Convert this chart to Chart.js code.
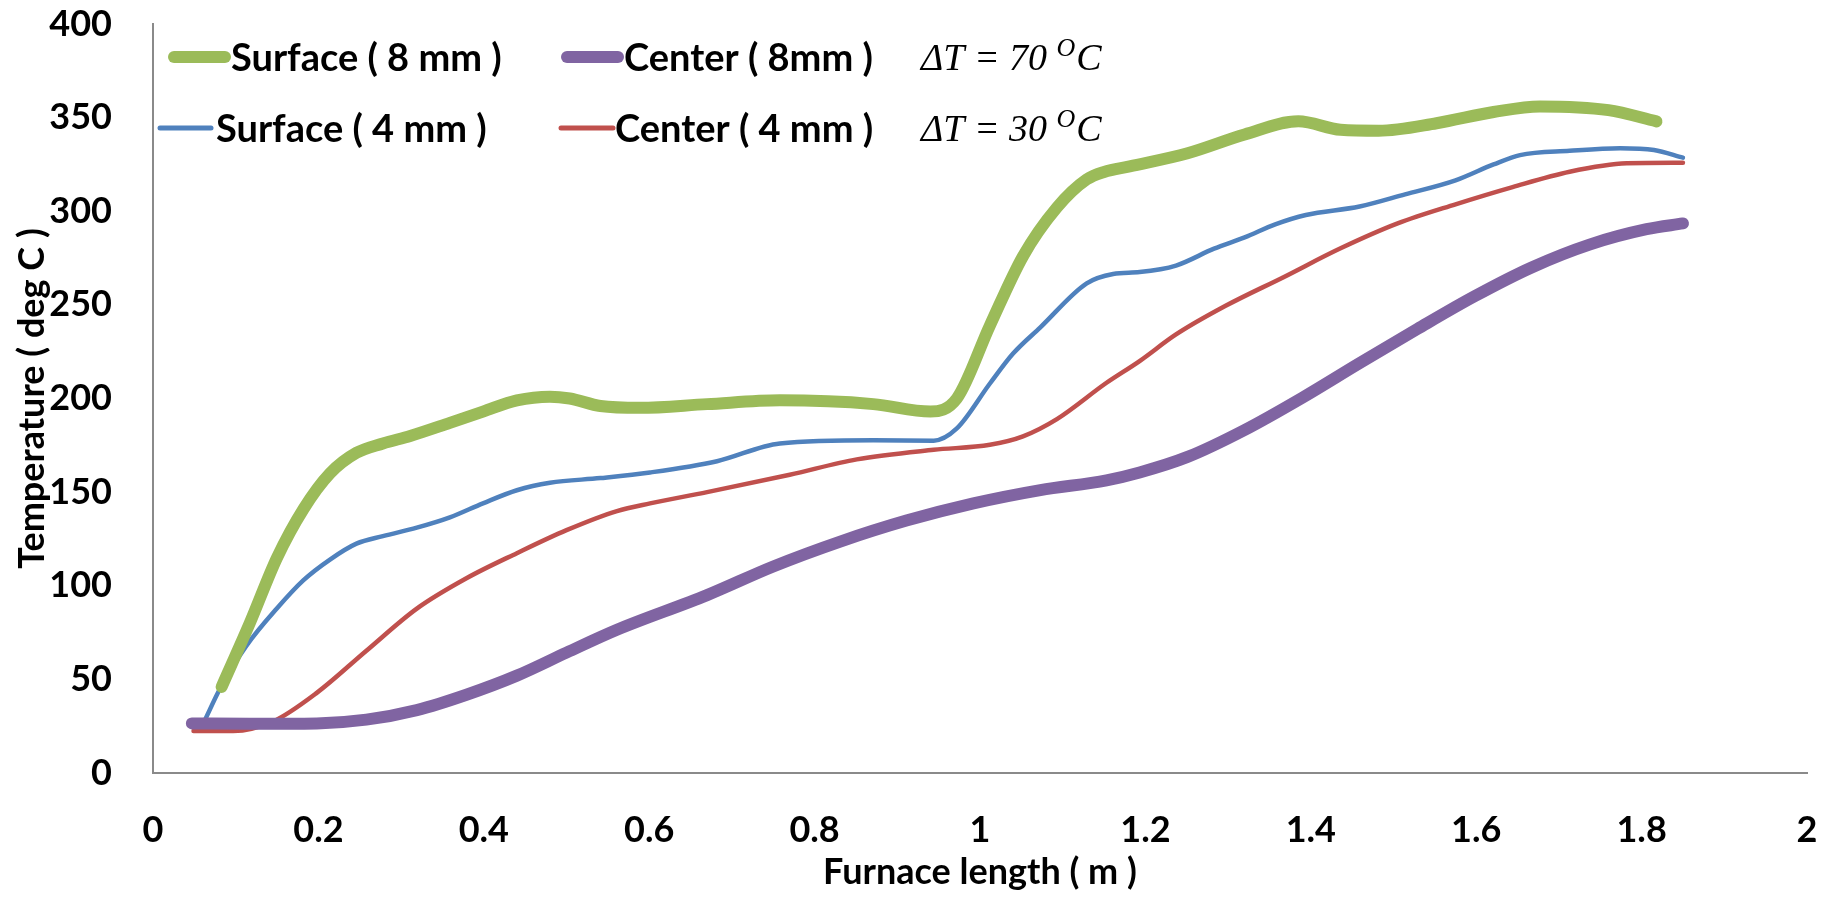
<!DOCTYPE html>
<html>
<head>
<meta charset="utf-8">
<title>Furnace temperature</title>
<script src="https://cdn.jsdelivr.net/npm/chart.js@4.4.1/dist/chart.umd.min.js"></script>
<style>
  html, body { margin: 0; padding: 0; background: #fff; }
  #wrap { width: 1831px; height: 897px; }
</style>
</head>
<body>
<div id="wrap"><canvas id="chart" width="1831" height="897"></canvas></div>
<script>
// axis ticks
const xTicks = [0, 0.2, 0.4, 0.6, 0.8, 1, 1.2, 1.4, 1.6, 1.8, 2];
const yTicks = [0, 50, 100, 150, 200, 250, 300, 350, 400];

// Surface ( 8 mm )
const lenSurface8 = [0.083, 0.117, 0.150, 0.182, 0.214, 0.246, 0.278, 0.311, 0.359, 0.399, 0.440, 0.480, 0.504, 0.541, 0.589, 0.670, 0.758, 0.871, 0.940, 0.972, 1.012, 1.052, 1.093, 1.129, 1.150, 1.181, 1.251, 1.320, 1.385, 1.436, 1.482, 1.552, 1.621, 1.677, 1.760, 1.818];
const tempSurface8 = [46, 80, 115, 141, 160, 171, 176, 180, 187, 193, 199, 201, 200, 196, 195, 197, 199, 197, 193, 200, 239, 276, 302, 317, 321, 324, 331, 341, 348, 343.5, 343, 347, 353, 356, 354, 348];

// Center ( 8mm )
const lenCenter8 = [0.047, 0.117, 0.198, 0.258, 0.319, 0.379, 0.440, 0.500, 0.561, 0.670, 0.750, 0.831, 0.911, 0.992, 1.073, 1.153, 1.193, 1.251, 1.320, 1.390, 1.459, 1.529, 1.598, 1.667, 1.737, 1.806, 1.850];
const tempCenter8 = [26.5, 26.3, 26.5, 28.5, 33.6, 41.8, 52, 64.3, 76.5, 95, 110.3, 123.6, 134.8, 144, 151.1, 156.3, 160.5, 168.8, 183.2, 200.5, 218.9, 237.2, 254.6, 270, 282.2, 290.4, 293.5];

// Surface ( 4 mm )
const lenSurface4 = [0.063, 0.081, 0.113, 0.150, 0.182, 0.214, 0.246, 0.278, 0.319, 0.359, 0.399, 0.440, 0.480, 0.541, 0.601, 0.682, 0.758, 0.871, 0.944, 0.972, 1.012, 1.040, 1.073, 1.129, 1.161, 1.193, 1.237, 1.283, 1.320, 1.357, 1.394, 1.459, 1.514, 1.575, 1.621, 1.653, 1.713, 1.774, 1.815, 1.850];
const tempSurface4 = [28.5, 45, 68, 88, 103, 114, 122.5, 126.5, 131, 136.5, 144, 151, 155, 157.5, 160.5, 166.5, 176, 177.7, 177.5, 184, 208, 224, 238, 261.5, 266.5, 267.5, 271, 280, 286, 293, 298, 302.5, 309, 316.5, 325, 330, 332.3, 333.7, 332.7, 328.6];

// Center ( 4 mm )
const lenCenter4 = [0.049, 0.097, 0.145, 0.198, 0.258, 0.319, 0.379, 0.440, 0.500, 0.561, 0.601, 0.670, 0.770, 0.851, 0.944, 1.012, 1.052, 1.093, 1.153, 1.193, 1.237, 1.297, 1.367, 1.436, 1.505, 1.575, 1.644, 1.713, 1.782, 1.850];
const tempCenter4 = [22.4, 22.4, 27.5, 42.8, 65.3, 87.8, 104, 117.4, 129.7, 139.9, 144, 150, 159.3, 167.5, 172.6, 175.3, 179.8, 189, 208.4, 220, 234.2, 249.5, 264.8, 280.2, 293.5, 303.7, 312.9, 321.1, 325.6, 325.9];

const seriesNames = ['Surface ( 8 mm )', 'Center ( 8mm )', 'Surface ( 4 mm )', 'Center ( 4 mm )'];
const deltaNotes = ['\u0394T = 70 ', '\u0394T = 30 '];

const GREEN = '#9BBB59', PURPLE = '#8064A2', BLUE = '#4F81BD', RED = '#C0504D';
const AXIS_GREY = '#8a8a8a';
const FAMILY = 'Lato, "Open Sans", sans-serif';
const LEGEND_FONT = 'bold 38px ' + FAMILY;
const MATH_FONT = '"Liberation Serif", "DejaVu Serif", serif';

function points(xs, ys) {
    return xs.map((x, i) => ({ x: x, y: ys[i] }));
}

function lineSet(label, xs, ys, color, width) {
    return {
        label: label,
        data: points(xs, ys),
        borderColor: color,
        backgroundColor: color,
        borderWidth: width,
        borderCapStyle: 'round',
        borderJoinStyle: 'round',
        cubicInterpolationMode: 'monotone',
        pointRadius: 0,
        fill: false
    };
}

// legend drawn by hand: two rows like the original
const legendPlugin = {
    id: 'twoRowLegend',
    afterDraw(chart) {
        const ctx = chart.ctx;
        const rows = [
            { y: 57, items: [
                { x1: 174, x2: 225, w: 12, color: GREEN, text: seriesNames[0], tx: 231 },
                { x1: 567, x2: 618, w: 12, color: PURPLE, text: seriesNames[1], tx: 624 }
            ], note: deltaNotes[0] },
            { y: 128, items: [
                { x1: 160, x2: 211, w: 5, color: BLUE, text: seriesNames[2], tx: 216 },
                { x1: 561, x2: 613, w: 5, color: RED, text: seriesNames[3], tx: 615 }
            ], note: deltaNotes[1] }
        ];
        ctx.save();
        rows.forEach(row => {
            row.items.forEach(it => {
                ctx.beginPath();
                ctx.lineCap = 'round';
                ctx.lineWidth = it.w;
                ctx.strokeStyle = it.color;
                ctx.moveTo(it.x1, row.y);
                ctx.lineTo(it.x2, row.y);
                ctx.stroke();
                ctx.fillStyle = '#000';
                ctx.font = LEGEND_FONT;
                ctx.textBaseline = 'middle';
                ctx.textAlign = 'left';
                ctx.fillText(it.text, it.tx, row.y + 2);
            });
            // delta T note, math style with superscript O
            let x = 921;
            const base = row.y + 13;
            ctx.textBaseline = 'alphabetic';
            ctx.font = 'italic 38px ' + MATH_FONT;
            ctx.fillText(row.note, x, base);
            x += ctx.measureText(row.note).width;
            ctx.font = 'italic 26px ' + MATH_FONT;
            ctx.fillText('O', x, base - 14);
            x += ctx.measureText('O').width + 1;
            ctx.font = 'italic 38px ' + MATH_FONT;
            ctx.fillText('C', x, base);
        });
        ctx.restore();
    }
};

const tickFont = { family: FAMILY, size: 36, weight: 'bold' };

new Chart(document.getElementById('chart'), {
    type: 'line',
    data: {
        datasets: [
            lineSet(seriesNames[0], lenSurface8, tempSurface8, GREEN, 12),
            lineSet(seriesNames[1], lenCenter8, tempCenter8, PURPLE, 12),
            lineSet(seriesNames[2], lenSurface4, tempSurface4, BLUE, 4.5),
            lineSet(seriesNames[3], lenCenter4, tempCenter4, RED, 4.5)
        ]
    },
    options: {
        responsive: false,
        animation: false,
        devicePixelRatio: 1,
        layout: { padding: { top: 24, right: 24, left: 0, bottom: 0 } },
        plugins: {
            legend: { display: false },
            tooltip: { enabled: false }
        },
        scales: {
            x: {
                type: 'linear',
                min: 0,
                max: 2,
                afterBuildTicks: s => { s.ticks = xTicks.map(v => ({ value: v })); },
                afterFit: s => {
                    s.height = 124;
                    s.paddingLeft = 0;
                    s.paddingRight = 0;
                },
                grid: { display: false, drawTicks: false },
                border: { display: true, color: AXIS_GREY, width: 2 },
                ticks: {
                    color: '#000',
                    font: tickFont,
                    padding: 36,
                    maxRotation: 0,
                    autoSkip: false,
                    callback: v => String(v)
                },
                title: {
                    display: true,
                    text: 'Furnace length ( m )',
                    color: '#000',
                    font: tickFont,
                    padding: { top: 0, bottom: 3 }
                }
            },
            y: {
                min: 0,
                max: 400,
                afterBuildTicks: s => { s.ticks = yTicks.map(v => ({ value: v })); },
                afterFit: s => {
                    s.width = 153;
                    s.paddingTop = 0;
                    s.paddingBottom = 0;
                },
                grid: { display: false, drawTicks: false },
                border: { display: true, color: AXIS_GREY, width: 2 },
                ticks: {
                    color: '#000',
                    font: tickFont,
                    padding: 41,
                    callback: v => String(v)
                },
                title: {
                    display: true,
                    text: 'Temperature ( deg C )',
                    color: '#000',
                    font: tickFont,
                    padding: { top: 11, bottom: 0 }
                }
            }
        }
    },
    plugins: [legendPlugin]
});
</script>
</body>
</html>
